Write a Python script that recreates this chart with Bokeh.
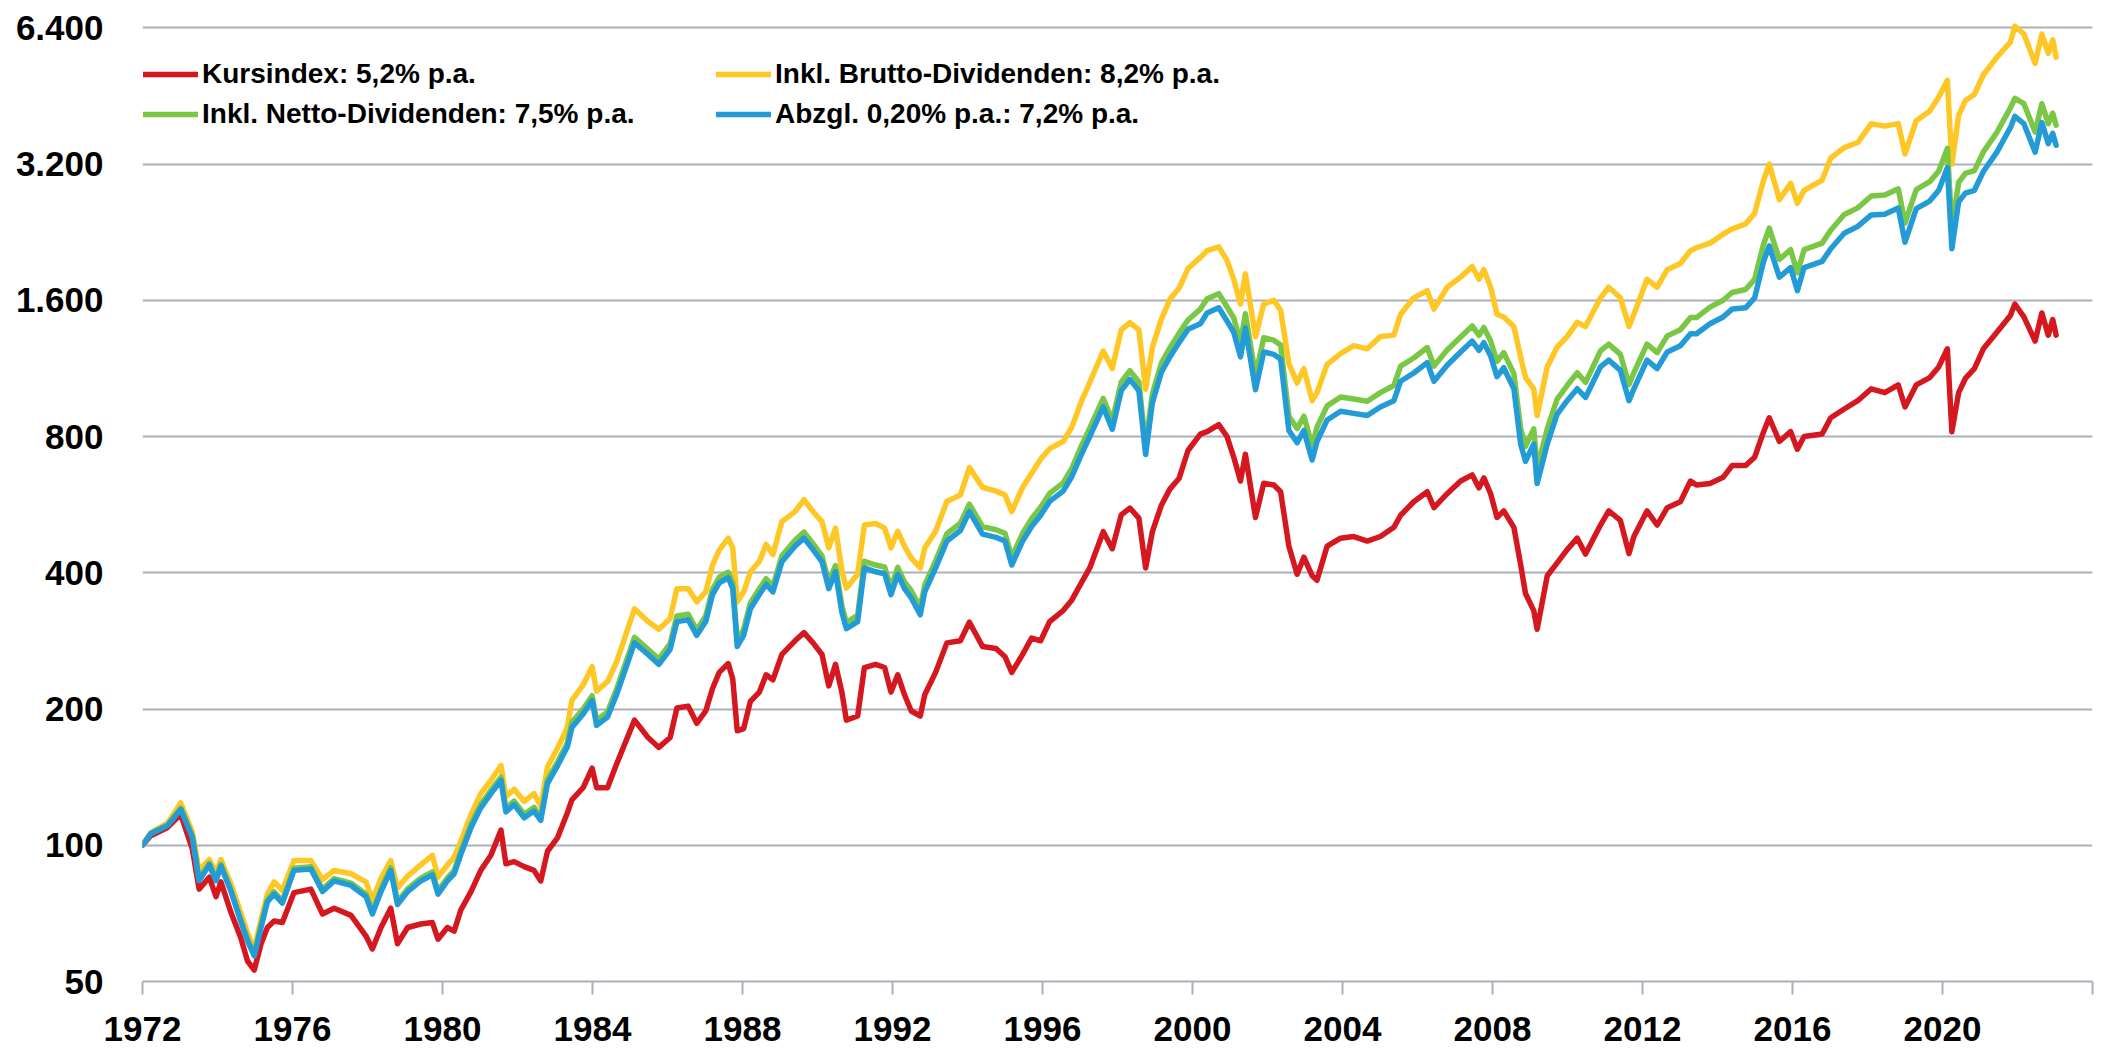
from bokeh.plotting import figure
from bokeh.models import Range1d, FixedTicker, Legend, LegendItem
from bokeh.embed import file_html
from bokeh.resources import INLINE

# ---------------- data ----------------
years = [
    1972.00, 1972.22, 1972.67, 1973.02, 1973.33, 1973.51, 1973.78, 1973.96, 1974.09, 1974.36,
    1974.62, 1974.80, 1974.98, 1975.16, 1975.33, 1975.51, 1975.73, 1976.04, 1976.49, 1976.80,
    1977.11, 1977.56, 1977.96, 1978.13, 1978.36, 1978.62, 1978.80, 1979.07, 1979.42, 1979.73,
    1979.88, 1980.13, 1980.31, 1980.49, 1980.76, 1981.02, 1981.29, 1981.56, 1981.69, 1981.91,
    1982.18, 1982.44, 1982.62, 1982.80, 1983.07, 1983.33,
    1983.45, 1983.75, 1983.99, 1984.11, 1984.40, 1984.64, 1985.12, 1985.48, 1985.77, 1986.07,
    1986.25, 1986.55, 1986.78, 1987.02, 1987.20, 1987.38, 1987.62, 1987.74, 1987.86, 1988.03,
    1988.21, 1988.45, 1988.63, 1988.81, 1989.05, 1989.40, 1989.64, 1989.88, 1990.12, 1990.30,
    1990.48, 1990.65, 1990.77, 1991.07, 1991.25, 1991.55, 1991.79, 1991.96, 1992.14, 1992.32,
    1992.50, 1992.74, 1992.86, 1993.15, 1993.45, 1993.81, 1994.05, 1994.40, 1994.76, 1995.00,
    1995.18, 1995.47, 1995.71, 1995.95, 1996.19, 1996.55, 1996.78, 1997.02, 1997.26, 1997.62,
    1997.86, 1998.10, 1998.33, 1998.57, 1998.75, 1998.93, 1999.17, 1999.40, 1999.64, 1999.88,
    2000.21, 2000.39, 2000.70, 2000.92, 2001.10, 2001.28, 2001.41, 2001.68, 2001.90, 2002.17,
    2002.35, 2002.57, 2002.79, 2002.97, 2003.19, 2003.32, 2003.59, 2003.95, 2004.30, 2004.66,
    2005.01, 2005.37, 2005.55, 2005.90, 2006.26, 2006.44, 2006.79, 2007.15, 2007.46, 2007.64,
    2007.77, 2007.95, 2008.12, 2008.30, 2008.57, 2008.75, 2008.88, 2009.10, 2009.19, 2009.46,
    2009.72, 2009.99, 2010.26, 2010.48, 2010.88, 2011.10, 2011.41, 2011.64, 2011.77, 2012.12,
    2012.39, 2012.66, 2013.01, 2013.28,
    2013.44, 2013.80, 2014.15, 2014.39, 2014.75, 2014.99, 2015.23, 2015.38, 2015.65, 2015.95,
    2016.13, 2016.31, 2016.79, 2017.02, 2017.38, 2017.74, 2018.10, 2018.46, 2018.82, 2019.00,
    2019.30, 2019.66, 2019.90, 2020.13, 2020.25, 2020.43, 2020.61, 2020.85, 2021.09, 2021.45,
    2021.81, 2021.93, 2022.17, 2022.47, 2022.65, 2022.82, 2022.94, 2023.03,
]

kursindex = [
    100, 105, 109.5, 117, 98, 80, 85, 77, 83, 71,
    62.5, 55.5, 53, 60.5, 65.8, 68, 67.5, 78.6, 80, 70.5,
    72.6, 70, 63, 59, 65.8, 72.6, 60.6, 65.8, 67, 67.5,
    62, 65.8, 64.6, 72, 79, 88, 95, 108, 91, 92,
    89.7, 88, 83.4, 97, 104, 118,
    126, 134, 148, 134, 134, 151, 189, 173, 164.5, 173,
    201, 203, 186, 198, 222, 241, 252, 233, 179, 181,
    208, 218, 238, 232, 264, 283, 295, 280, 264, 225,
    251, 218, 189, 193, 247, 251, 247, 218, 238, 215,
    198, 193, 215, 241, 280, 283, 311, 275, 272, 261,
    241, 264, 287, 283, 312, 330, 348, 378, 410, 493,
    452, 537, 556, 528, 410, 493, 564, 613, 646, 745,
    810, 820, 850, 800, 720, 638, 731, 530, 631, 625,
    604, 458, 397, 433, 394, 385, 458, 477, 481, 470,
    481, 504, 536, 574, 604, 557, 598, 638, 658, 616,
    648, 598, 530, 548, 504, 417, 360, 330, 300, 394,
    420, 450, 477, 440, 510, 548, 522, 441, 481, 548,
    510, 557, 574, 638,
    625, 630, 650, 690, 690, 720, 820, 880, 780, 820,
    750, 800, 810, 880, 920, 960, 1020, 1000, 1040, 930,
    1040, 1080, 1140, 1250, 820, 1000, 1075, 1130, 1250, 1360,
    1480, 1570, 1470, 1300, 1500, 1340, 1450, 1340,
]

brutto = [
    100, 106.5, 112, 124, 107, 88, 93, 87, 93, 82,
    71, 64, 59, 68.5, 78, 83, 79.5, 92.5, 92.5, 84,
    88, 86.5, 83, 75.5, 84.5, 92.5, 80.5, 85.5, 90.5, 95,
    85, 90.5, 94, 102, 117, 130, 139, 150, 128, 133,
    125, 130, 122, 149, 164, 182,
    209, 226, 248, 219, 230, 254, 333, 312, 300, 317,
    369, 369, 345, 363, 416, 449, 477, 454, 345, 363,
    402, 424, 462, 439, 519, 546, 580, 546, 519, 454,
    502, 405, 370, 397, 510, 514, 502, 454, 494, 458,
    431, 410, 454, 494, 575, 594, 683, 618, 606, 594,
    546, 618, 664, 713, 752, 780, 838, 949, 1054, 1236,
    1131, 1376, 1428, 1376, 1017, 1259, 1454, 1610, 1700, 1880,
    1990, 2060, 2100, 1960, 1780, 1570, 1830, 1330, 1570, 1600,
    1520, 1160, 1050, 1130, 960, 1000, 1155, 1220, 1270, 1250,
    1330, 1340, 1490, 1620, 1680, 1530, 1710, 1800, 1900, 1780,
    1870, 1710, 1490, 1470, 1400, 1200, 1080, 1020, 890, 1140,
    1260, 1330, 1430, 1400, 1620, 1710, 1620, 1400, 1490, 1780,
    1710, 1870, 1930, 2060,
    2090, 2140, 2240, 2300, 2360, 2490, 2950, 3200, 2670, 2900,
    2620, 2800, 2950, 3300, 3480, 3570, 3930, 3880, 3930, 3370,
    3990, 4190, 4500, 4900, 3200, 4100, 4420, 4560, 5040, 5510,
    5950, 6450, 6200, 5340, 6200, 5620, 6020, 5510,
]

netto = [
    100, 106.3, 111, 120.8, 104.8, 84.2, 91.3, 84.3, 90.8, 79.7,
    68.6, 62.1, 57.6, 66.5, 75.8, 78.9, 75.3, 89, 89.6, 79.9,
    84.4, 82.5, 78, 71.4, 80, 89.2, 75, 80.1, 84.6, 87.3,
    79.2, 84.7, 87.9, 97, 111.3, 123, 132.3, 141.4, 120.6, 125.2,
    117.1, 121.2, 115.6, 139.6, 152.9, 168.3,
    187, 200, 214, 189, 197, 221, 288, 271, 258, 279,
    321, 324, 299, 321, 368, 391, 401, 380, 283, 300,
    343, 369, 388, 374, 436, 472, 492, 464, 436, 381,
    415, 338, 311, 322, 424, 416, 412, 371, 411, 382,
    365, 335, 376, 425, 488, 515, 567, 506, 498, 489,
    433, 489, 527, 558, 599, 632, 680, 757, 835, 971,
    867, 1055, 1118, 1056, 764, 994, 1162, 1257, 1352, 1447,
    1530, 1612, 1655, 1548, 1462, 1290, 1494, 1091, 1322, 1306,
    1274, 887, 833, 887, 763, 839, 935, 978, 968, 957,
    1000, 1037, 1145, 1193, 1258, 1145, 1242, 1328, 1404, 1339,
    1393, 1301, 1172, 1226, 1102, 832, 761, 832, 680, 832,
    967, 1037, 1107, 1054, 1237, 1280, 1215, 1042, 1107, 1280,
    1226, 1335, 1378, 1465,
    1465, 1545, 1600, 1665, 1690, 1780, 2130, 2310, 1970, 2070,
    1840, 2070, 2140, 2285, 2475, 2560, 2720, 2735, 2820, 2370,
    2810, 2925, 3090, 3465, 2300, 2915, 3050, 3095, 3405, 3760,
    4260, 4470, 4350, 3765, 4350, 3930, 4145, 3900,
]

abzgl = [
    100, 106, 110.5, 120, 104, 83.5, 90.5, 83.5, 90, 79,
    68, 61.5, 57, 65.8, 75, 78, 74.5, 88, 88.6, 79,
    83.4, 81.5, 77, 70.5, 79, 88, 74, 79, 83.4, 86,
    78, 83.4, 86.5, 95.5, 109.5, 121, 130, 139, 118.5, 123,
    115, 119, 113.5, 137, 150, 165,
    182, 195, 209, 184, 192, 215, 280, 264, 251, 271,
    312, 315, 291, 312, 358, 380, 390, 369, 275, 291,
    333, 358, 377, 363, 423, 458, 477, 450, 423, 369,
    402, 327, 301, 312, 410, 402, 398, 358, 397, 369,
    352, 323, 363, 410, 470, 496, 546, 487, 479, 470,
    416, 470, 506, 536, 575, 606, 652, 725, 800, 930,
    830, 1010, 1070, 1010, 730, 950, 1110, 1200, 1290, 1380,
    1420, 1500, 1540, 1440, 1360, 1200, 1390, 1015, 1230, 1215,
    1185, 825, 775, 825, 710, 780, 870, 910, 900, 890,
    930, 960, 1060, 1105, 1165, 1060, 1150, 1230, 1300, 1240,
    1290, 1205, 1085, 1135, 1020, 770, 705, 770, 630, 770,
    895, 960, 1020, 976, 1140, 1180, 1120, 960, 1020, 1180,
    1130, 1230, 1270, 1350,
    1350, 1420, 1470, 1530, 1540, 1620, 1950, 2110, 1800, 1890,
    1680, 1890, 1950, 2080, 2250, 2330, 2470, 2480, 2560, 2150,
    2550, 2650, 2800, 3140, 2080, 2640, 2760, 2800, 3080, 3400,
    3850, 4080, 3930, 3400, 3950, 3550, 3740, 3520,
]

series_labels = [
    "Kursindex: 5,2% p.a.",
    "Inkl. Netto-Dividenden: 7,5% p.a.",
    "Inkl. Brutto-Dividenden: 8,2% p.a.",
    "Abzgl. 0,20% p.a.: 7,2% p.a.",
]

x_ticks = [1972, 1976, 1980, 1984, 1988, 1992, 1996, 2000, 2004, 2008, 2012, 2016, 2020, 2024]
x_tick_labels = ["1972", "1976", "1980", "1984", "1988", "1992", "1996", "2000",
                 "2004", "2008", "2012", "2016", "2020", ""]
y_ticks = [50, 100, 200, 400, 800, 1600, 3200, 6400]
y_tick_labels = ["50", "100", "200", "400", "800", "1.600", "3.200", "6.400"]

# ---------------- styling ----------------
FONT = "Liberation Sans"
RED = "#d5181f"
YELLOW = "#ffc726"
GREEN = "#79c745"
BLUE = "#229bd7"
GRID = "#a9b0b8"

p = figure(
    width=2103, height=1050,
    y_axis_type="log",
    x_range=Range1d(1972, 2024),
    y_range=Range1d(50, 6642),
    output_backend="svg",
    toolbar_location=None,
    min_border_left=142, min_border_right=11, min_border_top=20, min_border_bottom=69,
)
p.outline_line_color = None
p.background_fill_color = "white"
p.border_fill_color = "white"

line_kw = dict(line_width=5.5, line_join="round", line_cap="round")
r_red = p.line(years, kursindex, line_color=RED, **line_kw)
r_yel = p.line(years, brutto, line_color=YELLOW, **line_kw)
r_grn = p.line(years, netto, line_color=GREEN, **line_kw)
r_blu = p.line(years, abzgl, line_color=BLUE, **line_kw)

xt = FixedTicker(ticks=x_ticks, minor_ticks=[])
yt = FixedTicker(ticks=y_ticks, minor_ticks=[])
p.xaxis.ticker = xt
p.yaxis.ticker = yt
p.xaxis.major_label_overrides = {t: s for t, s in zip(x_ticks, x_tick_labels)}
p.yaxis.major_label_overrides = {t: s for t, s in zip(y_ticks, y_tick_labels)}

for ax in (p.xaxis[0], p.yaxis[0]):
    ax.major_label_text_font = FONT
    ax.major_label_text_font_style = "bold"
    ax.major_label_text_font_size = "35px"
    ax.major_label_text_color = "#000000"
    ax.minor_tick_line_color = None

p.yaxis.axis_line_color = None
p.yaxis.major_tick_line_color = None
p.yaxis.major_tick_out = 0
p.yaxis.major_tick_in = 0
p.yaxis.major_label_standoff = 39

p.xaxis.axis_line_color = GRID
p.xaxis.axis_line_width = 2
p.xaxis.major_tick_line_color = GRID
p.xaxis.major_tick_line_width = 2
p.xaxis.major_tick_out = 13
p.xaxis.major_tick_in = 0
p.xaxis.major_label_standoff = 22

p.xgrid.grid_line_color = None
p.ygrid.ticker = yt
p.ygrid.grid_line_color = GRID
p.ygrid.grid_line_width = 2


def make_legend(items, loc):
    lg = Legend(items=items, location=loc)
    lg.label_text_font = FONT
    lg.label_text_font_style = "bold"
    lg.label_text_font_size = "28px"
    lg.label_text_color = "#000000"
    lg.glyph_width = 55
    lg.glyph_height = 36
    lg.label_height = 36
    lg.label_standoff = 4
    lg.spacing = 4
    lg.padding = 0
    lg.margin = 0
    lg.border_line_color = None
    lg.background_fill_alpha = 0
    return lg


leg1 = make_legend([LegendItem(label=series_labels[0], renderers=[r_red]),
                    LegendItem(label=series_labels[1], renderers=[r_grn])], (1, 849))
leg2 = make_legend([LegendItem(label=series_labels[2], renderers=[r_yel]),
                    LegendItem(label=series_labels[3], renderers=[r_blu])], (574, 849))
p.add_layout(leg1)
p.add_layout(leg2)

open("out.html", "w").write(file_html(p, INLINE))
